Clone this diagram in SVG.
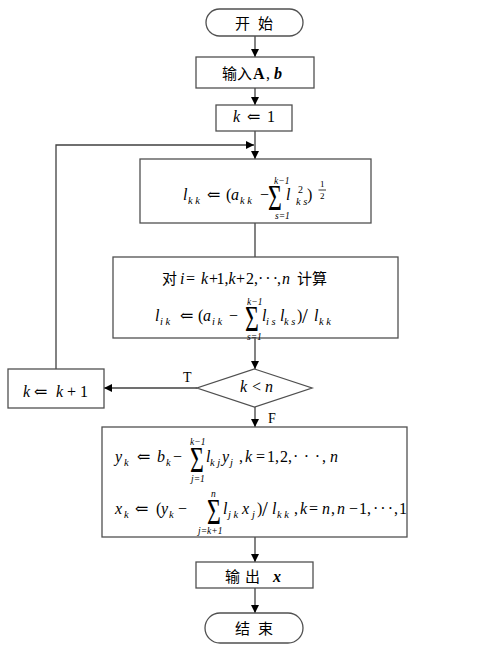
<svg xmlns="http://www.w3.org/2000/svg" width="502" height="649" viewBox="0 0 502 649">
<style>
.box{fill:#fff;stroke:#505050;stroke-width:1.3}
.ln{fill:none;stroke:#404040;stroke-width:1.3}
text{font-family:"Liberation Serif","DejaVu Serif",serif;fill:#000}
.m{font-size:16px;font-style:italic}
.r{font-size:16px;font-style:normal}
.s{font-size:10.5px;font-style:italic}
.sr{font-size:10px;font-style:normal}
.lim{font-size:9.5px;font-style:italic}
.sig{font-size:25px;font-style:normal}
.dots{font-size:16px;font-style:normal;letter-spacing:2px}
.cn{font-family:"Noto Sans CJK SC","Noto Sans CJK JP",sans-serif;font-size:15px;font-style:normal}
.lab{font-size:14px}
</style>
<defs>
<marker id="ar" viewBox="0 0 10 10" refX="10" refY="5" markerWidth="8" markerHeight="8" markerUnits="userSpaceOnUse" orient="auto">
<path d="M0,0 L10,5 L0,10 Z" fill="#000"/>
</marker>
</defs>

<g id="connectors">
<line class="ln" x1="255" y1="36" x2="255" y2="57" marker-end="url(#ar)"/>
<line class="ln" x1="255" y1="88" x2="255" y2="105" marker-end="url(#ar)"/>
<line class="ln" x1="255" y1="131" x2="255" y2="159" marker-end="url(#ar)"/>
<polyline class="ln" points="56,369 56,145 254,145" marker-end="url(#ar)"/>
<line class="ln" x1="255" y1="223" x2="255" y2="257"/>
<line class="ln" x1="255" y1="338" x2="255" y2="369" marker-end="url(#ar)"/>
<line class="ln" x1="197" y1="388" x2="104" y2="388" marker-end="url(#ar)"/>
<line class="ln" x1="255" y1="407" x2="255" y2="427" marker-end="url(#ar)"/>
<line class="ln" x1="255" y1="537" x2="255" y2="562" marker-end="url(#ar)"/>
<line class="ln" x1="255" y1="588" x2="255" y2="613" marker-end="url(#ar)"/>
<text class="lab" x="183" y="382">T</text>
<text class="lab" x="268" y="423">F</text>
</g>

<g id="start">
<rect class="box" x="206" y="9" width="97" height="27" rx="13.5"/>
<text class="cn" x="235" y="29">开<tspan x="258">始</tspan></text>
</g>

<g id="input">
<rect class="box" x="196" y="57" width="118" height="31"/>
<text y="79"><tspan class="cn" x="222">输入</tspan><tspan class="r" x="253" font-weight="bold">A</tspan><tspan class="r" x="266">,</tspan><tspan class="m" x="274" font-weight="bold">b</tspan></text>
</g>

<g id="init">
<rect class="box" x="216" y="105" width="76" height="26"/>
<text y="122"><tspan class="m" x="233">k</tspan><tspan class="r" x="247">⇐</tspan><tspan class="r" x="267">1</tspan></text>
</g>

<g id="lkk">
<rect class="box" x="140" y="159" width="231" height="64"/>
<text><tspan class="m" x="183" y="200">l</tspan><tspan class="s" x="188" y="204">k k</tspan><tspan class="r" x="207" y="200">⇐</tspan><tspan class="r" x="226" y="200">(</tspan><tspan class="m" x="231" y="200">a</tspan><tspan class="s" x="240" y="204">k k</tspan><tspan class="r" x="260" y="200">−</tspan></text>
<text class="sig" transform="translate(268,210) scale(0.95,1.42)">Σ</text>
<text class="lim" x="274" y="184">k−1</text>
<text class="lim" x="275" y="219">s=1</text>
<text><tspan class="m" x="286" y="200">l</tspan><tspan class="sr" x="298" y="193">2</tspan><tspan class="s" x="296" y="205">k s</tspan><tspan class="r" x="307" y="200">)</tspan></text>
<text class="sr" x="320" y="187" style="font-size:9px">1</text>
<line x1="318.5" y1="190" x2="326" y2="190" stroke="#000" stroke-width="0.8"/>
<text class="sr" x="320" y="199" style="font-size:9px">2</text>
</g>

<g id="lik">
<rect class="box" x="113" y="257" width="285" height="81"/>
<text y="284"><tspan class="cn" x="162">对</tspan><tspan class="m" x="180">i</tspan><tspan class="r" x="186">=</tspan><tspan class="m" x="201">k</tspan><tspan class="r" x="209">+</tspan><tspan class="r" x="216.5">1</tspan><tspan class="r" x="224.5">,</tspan><tspan class="m" x="228.5">k</tspan><tspan class="r" x="236">+</tspan><tspan class="r" x="246">2</tspan><tspan class="r" x="254">,</tspan><tspan class="dots" x="258">···</tspan><tspan class="r" x="277">,</tspan><tspan class="m" x="282">n</tspan><tspan class="cn" x="297">计算</tspan></text>

<text><tspan class="m" x="155" y="321">l</tspan><tspan class="s" x="160" y="325">i k</tspan><tspan class="r" x="180" y="321">⇐</tspan><tspan class="r" x="198" y="321">(</tspan><tspan class="m" x="203" y="321">a</tspan><tspan class="s" x="212" y="325">i k</tspan><tspan class="r" x="229" y="321">−</tspan></text>
<text class="sig" transform="translate(245,331) scale(0.95,1.42)">Σ</text>
<text class="lim" x="247" y="305">k−1</text>
<text class="lim" x="247" y="340">s=1</text>
<text><tspan class="m" x="262" y="321">l</tspan><tspan class="s" x="266" y="325">i s</tspan><tspan class="m" x="280" y="321">l</tspan><tspan class="s" x="284" y="325">k s</tspan><tspan class="r" x="297" y="321">)</tspan><tspan class="r" x="302" y="323" style="font-size:21px">/</tspan><tspan class="m" x="314" y="321">l</tspan><tspan class="s" x="319" y="325">k k</tspan></text>
</g>

<g id="cond">
<polygon class="box" points="254.5,369 312,388 254.5,407 197,388"/>
<text y="392"><tspan class="m" x="240">k</tspan><tspan class="r" x="252">&lt;</tspan><tspan class="m" x="265">n</tspan></text>
</g>

<g id="inc">
<rect class="box" x="8" y="369" width="96" height="39"/>
<text y="397"><tspan class="m" x="23">k</tspan><tspan class="r" x="34">⇐</tspan><tspan class="m" x="56">k</tspan><tspan class="r" x="67">+</tspan><tspan class="r" x="80">1</tspan></text>
</g>

<g id="solve">
<rect class="box" x="102" y="427" width="305" height="110"/>
<text><tspan class="m" x="115" y="462">y</tspan><tspan class="s" x="124" y="466">k</tspan><tspan class="r" x="137" y="462">⇐</tspan><tspan class="m" x="157" y="462">b</tspan><tspan class="s" x="166" y="466">k</tspan><tspan class="r" x="173" y="462">−</tspan></text>
<text class="sig" transform="translate(190,472) scale(0.95,1.42)">Σ</text>
<text class="lim" x="190" y="445">k−1</text>
<text class="lim" x="191" y="482">j=1</text>
<text><tspan class="m" x="206" y="462">l</tspan><tspan class="s" x="210" y="466">k j</tspan><tspan class="m" x="222" y="462">y</tspan><tspan class="s" x="230" y="466">j</tspan><tspan class="r" x="239" y="462">,</tspan><tspan class="m" x="245" y="462">k</tspan><tspan class="r" x="256" y="462">=</tspan><tspan class="r" x="267" y="462">1</tspan><tspan class="r" x="275" y="462">,</tspan><tspan class="r" x="280" y="462">2</tspan><tspan class="r" x="288" y="462">,</tspan><tspan class="dots" x="293" style="letter-spacing:5.5px">···</tspan><tspan class="r" x="322" y="462">,</tspan><tspan class="m" x="330" y="462">n</tspan></text>

<text><tspan class="m" x="115" y="514">x</tspan><tspan class="s" x="124" y="518">k</tspan><tspan class="r" x="135" y="514">⇐</tspan><tspan class="r" x="156" y="514">(</tspan><tspan class="m" x="161" y="514">y</tspan><tspan class="s" x="169" y="518">k</tspan><tspan class="r" x="178" y="514">−</tspan></text>
<text class="sig" transform="translate(207,524) scale(0.95,1.42)">Σ</text>
<text class="lim" x="211" y="497">n</text>
<text class="lim" x="198" y="534">j=k+1</text>
<text><tspan class="m" x="223" y="514">l</tspan><tspan class="s" x="228" y="518">j k</tspan><tspan class="m" x="242" y="514">x</tspan><tspan class="s" x="252" y="518">j</tspan><tspan class="r" x="257" y="514">)</tspan><tspan class="r" x="262" y="516" style="font-size:21px">/</tspan><tspan class="m" x="272" y="514">l</tspan><tspan class="s" x="277" y="518">k k</tspan><tspan class="r" x="294" y="514">,</tspan><tspan class="m" x="300" y="514">k</tspan><tspan class="r" x="309" y="514">=</tspan><tspan class="m" x="322" y="514">n</tspan><tspan class="r" x="331" y="514">,</tspan><tspan class="m" x="337" y="514">n</tspan><tspan class="r" x="349" y="514">−</tspan><tspan class="r" x="359" y="514">1</tspan><tspan class="r" x="367" y="514">,</tspan><tspan class="dots" x="373" y="514">···</tspan><tspan class="r" x="394" y="514">,</tspan><tspan class="r" x="399" y="514">1</tspan></text>
</g>

<g id="output">
<rect class="box" x="196" y="562" width="117" height="26"/>
<text y="582"><tspan class="cn" x="225">输</tspan><tspan class="cn" x="245">出</tspan><tspan class="m" x="273" font-weight="bold">x</tspan></text>
</g>

<g id="end">
<rect class="box" x="205" y="613" width="98" height="30" rx="15"/>
<text class="cn" x="235" y="634">结<tspan x="258">束</tspan></text>
</g>
</svg>
